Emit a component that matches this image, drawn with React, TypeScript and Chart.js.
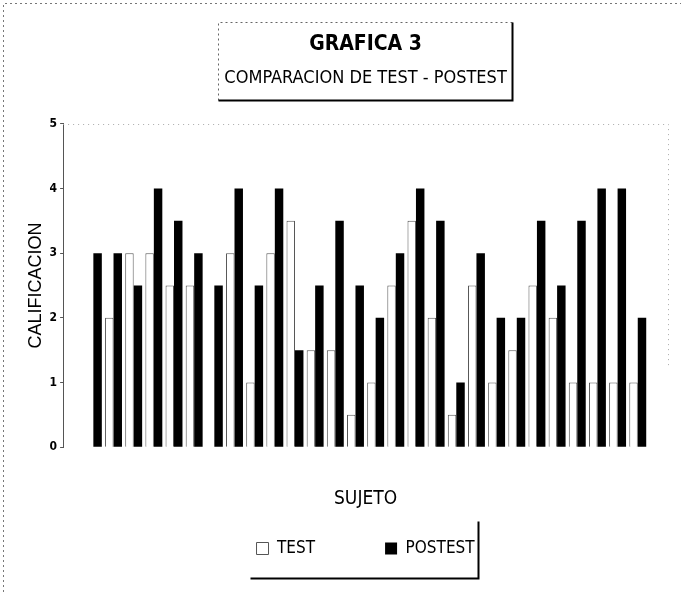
import React, { useEffect, useRef } from 'react';
import { Chart, registerables } from 'chart.js';

Chart.register(...registerables);

// ---- data ----
const SUBJECTS = ['', '1', '2', '3', '4', '5', '6', '7', '8', '9', '10', '11', '12', '13', '14', '15', '16', '17', '18', '19', '20', '21', '22', '23', '24', '25', '26', '27', '28', ''];
const TEST = [null, 0, 2, 3, 3, 2.5, 2.5, 0, 3, 1, 3, 3.5, 1.5, 1.5, 0.5, 1, 2.5, 3.5, 2, 0.5, 2.5, 1, 1.5, 2.5, 2, 1, 1, 1, 1, null];
const POSTEST = [null, 3, 3, 2.5, 4, 3.5, 3, 2.5, 4, 2.5, 4, 1.5, 2.5, 3.5, 2.5, 2, 3, 4, 3.5, 1, 3, 2, 2, 3.5, 2.5, 3.5, 4, 4, 2, null];
const Y_MIN = 0;
const Y_MAX = 5;
const Y_STEP = 1;
const TITLE = 'GRAFICA 3';
const SUBTITLE = 'COMPARACION DE TEST - POSTEST';
const Y_TITLE = 'CALIFICACION';
const X_TITLE = 'SUJETO';
const SERIES_NAMES = ['TEST', 'POSTEST'];

const NARROW = "'Liberation Sans Narrow', 'Arial Narrow', 'DejaVu Sans Condensed', 'Liberation Sans', sans-serif";
const SANS = "'Liberation Sans', Arial, sans-serif";

const decorations = {
  id: 'decorations',
  beforeDraw(chart: any) {
    const ctx = chart.ctx;
    ctx.save();
    ctx.fillStyle = '#ffffff';
    ctx.fillRect(0, 0, chart.width, chart.height);
    ctx.restore();
  },
  afterDraw(chart: any) {
    const ctx = chart.ctx;
    const a = chart.chartArea;
    ctx.save();
    // outer dotted frame (top & left)
    ctx.strokeStyle = '#777';
    ctx.lineWidth = 1;
    ctx.setLineDash([2, 3]);
    ctx.beginPath();
    ctx.moveTo(3.5, chart.height);
    ctx.lineTo(3.5, 3.5);
    ctx.lineTo(chart.width, 3.5);
    ctx.stroke();
    // plot area dotted top / right
    ctx.strokeStyle = '#aaa';
    ctx.setLineDash([1, 4]);
    ctx.beginPath();
    ctx.moveTo(a.left, Math.round(a.top) + 0.5);
    ctx.lineTo(Math.round(a.right) + 0.5, Math.round(a.top) + 0.5);
    ctx.lineTo(Math.round(a.right) + 0.5, a.top + (a.bottom - a.top) * 0.75);
    ctx.stroke();

    // title box
    const tb = chart.titleBlock;
    const titleOpts = chart.options.plugins.title;
    const subOpts = chart.options.plugins.subtitle;
    ctx.font = `${subOpts.font.weight || 'normal'} ${subOpts.font.size}px ${subOpts.font.family}`;
    const subW = ctx.measureText(SUBTITLE).width;
    const cx = (a.left + a.right) / 2;
    const titleCenterY = tb.top + titleOpts.padding.top + (titleOpts.font.size * 1.2) / 2;
    const boxTop = Math.round(titleCenterY - 23) + 0.5;
    const boxBottom = Math.round(titleCenterY + 55) + 0.5;
    const boxLeft = Math.round(cx - subW / 2 - 6) + 0.5;
    const boxRight = Math.round(cx + subW / 2 + 5) + 0.5;
    ctx.strokeStyle = '#666';
    ctx.lineWidth = 1;
    ctx.setLineDash([2, 3]);
    ctx.beginPath();
    ctx.moveTo(boxLeft, boxBottom);
    ctx.lineTo(boxLeft, boxTop);
    ctx.lineTo(boxRight, boxTop);
    ctx.stroke();
    ctx.setLineDash([]);
    ctx.strokeStyle = '#000';
    ctx.lineWidth = 2;
    ctx.beginPath();
    ctx.moveTo(boxRight, boxTop);
    ctx.lineTo(boxRight, boxBottom);
    ctx.lineTo(boxLeft, boxBottom);
    ctx.stroke();

    // legend box
    const hb = chart.legend && chart.legend.legendHitBoxes;
    if (hb && hb.length) {
      const l = Math.round(hb[0].left - 7) + 0.5;
      const r = Math.round(hb[hb.length - 1].left + hb[hb.length - 1].width + 3) + 0.5;
      const cy = hb[0].top + hb[0].height / 2;
      const t = Math.round(cy - 28) + 0.5;
      const b = Math.round(cy + 29) + 0.5;
      ctx.strokeStyle = '#000';
      ctx.lineWidth = 2;
      ctx.beginPath();
      ctx.moveTo(r, t);
      ctx.lineTo(r, b);
      ctx.lineTo(l, b);
      ctx.stroke();
    }
    ctx.restore();
  },
};

export default function App() {
  const ref = useRef<HTMLCanvasElement | null>(null);

  useEffect(() => {
    document.body.style.margin = '0';
    const canvas = ref.current;
    if (!canvas) return;
    const chart = new Chart(canvas, {
      type: 'bar',
      data: {
        labels: SUBJECTS,
        datasets: [
          {
            label: SERIES_NAMES[0],
            data: TEST,
            backgroundColor: '#ffffff',
            borderColor: '#555555',
            borderWidth: 1,
            categoryPercentage: 0.84,
            barPercentage: 1.0,
          },
          {
            label: SERIES_NAMES[1],
            data: POSTEST,
            backgroundColor: '#000000',
            borderColor: '#000000',
            borderWidth: 0,
            categoryPercentage: 0.84,
            barPercentage: 1.0,
          },
        ],
      },
      options: {
        responsive: false,
        animation: false,
        devicePixelRatio: 1,
        layout: { padding: { left: 18, right: 13, top: 0, bottom: 25 } },
        plugins: {
          title: {
            display: true,
            text: TITLE,
            fullSize: false,
            color: '#000',
            font: { family: NARROW, size: 21, weight: 'bold' },
            padding: { top: 32, bottom: 2 },
          },
          subtitle: {
            display: true,
            text: SUBTITLE,
            fullSize: false,
            color: '#000',
            font: { family: NARROW, size: 18, weight: 'normal' },
            padding: { top: 8, bottom: 35 },
          },
          legend: {
            display: true,
            position: 'bottom',
            fullSize: false,
            labels: {
              color: '#000',
              font: { family: NARROW, size: 17 },
              boxWidth: 12,
              boxHeight: 12,
              padding: 70,
            },
          },
          tooltip: { enabled: false },
        },
        scales: {
          x: {
            grid: { display: false },
            border: { display: false },
            ticks: { display: false },
            title: {
              display: true,
              text: X_TITLE,
              color: '#000',
              font: { family: NARROW, size: 19 },
              padding: { top: 32, bottom: -40 },
            },
          },
          y: {
            min: Y_MIN,
            max: Y_MAX,
            grid: { display: true, drawOnChartArea: false, tickLength: 3, color: '#555' },
            border: { display: true, color: '#555', width: 1, dash: [2, 2] },
            ticks: {
              stepSize: Y_STEP,
              color: '#000',
              font: { family: NARROW, size: 12, weight: 'bold' },
              padding: 3,
            },
            title: {
              display: true,
              text: Y_TITLE,
              color: '#000',
              font: { family: SANS, size: 18 },
              padding: { top: 7, bottom: 0 },
            },
          },
        },
      },
      plugins: [decorations],
    });
    return () => chart.destroy();
  }, []);

  return (
    <div style={{ width: 681, height: 592, position: 'relative', background: '#fff' }}>
      <canvas ref={ref} width={681} height={592} style={{ display: 'block', width: 681, height: 592 }} />
    </div>
  );
}
